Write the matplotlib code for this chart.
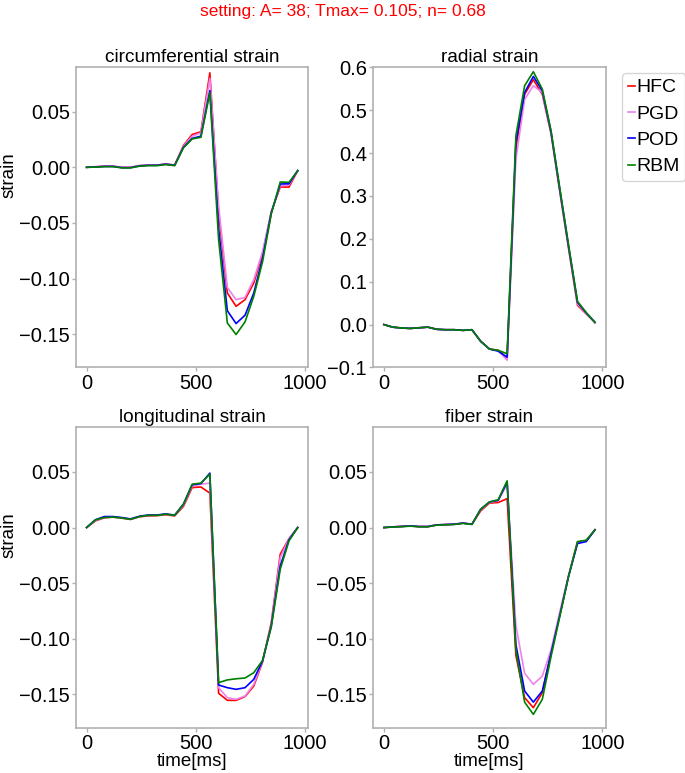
import matplotlib
matplotlib.use('Agg')
import matplotlib.pyplot as plt

plt.rcParams['font.family'] = ['Liberation Sans', 'DejaVu Sans']

# time points of the cycle [ms]
times_ms = [0, 40, 81, 121, 161, 201, 242, 282, 322, 362, 403, 443, 483,
            523, 564, 604, 644, 684, 725, 765, 805, 845, 886, 926, 966]

methods = ['HFC', 'PGD', 'POD', 'RBM']
colors = ['red', 'violet', 'blue', 'green']

# circumferential strain
circ_hfc = [0, 0.0005, 0.001, 0.001, 0.0, 0.0, 0.0015, 0.002, 0.002, 0.003, 0.002, 0.0196, 0.0295,
            0.032, 0.085, -0.040, -0.113, -0.125, -0.119, -0.104, -0.078, -0.040, -0.0177, -0.0178, -0.003]
circ_pgd = [0, 0.0005, 0.001, 0.001, 0.0, 0.0, 0.0015, 0.002, 0.002, 0.003, 0.002, 0.019, 0.028,
            0.031, 0.080, -0.035, -0.108, -0.119, -0.117, -0.101, -0.076, -0.040, -0.0165, -0.016, -0.003]
circ_pod = [0, 0.0003, 0.0008, 0.0008, -0.0003, -0.0003, 0.0013, 0.0018, 0.0018, 0.0028, 0.0018, 0.018, 0.026,
            0.028, 0.069, -0.055, -0.129, -0.1405, -0.133, -0.113, -0.082, -0.041, -0.015, -0.0148, -0.003]
circ_rbm = [0, 0.0002, 0.0006, 0.0006, -0.0005, -0.0005, 0.001, 0.0015, 0.0015, 0.0025, 0.0015, 0.0175, 0.0255,
            0.027, 0.067, -0.065, -0.140, -0.1504, -0.139, -0.116, -0.085, -0.042, -0.0132, -0.0135, -0.003]

# radial strain
rad_hfc = [0.0, -0.006, -0.008, -0.009, -0.0075, -0.006, -0.011, -0.012, -0.012, -0.0135, -0.012, -0.039, -0.057,
           -0.060, -0.078, 0.410, 0.537, 0.571, 0.537, 0.445, 0.310, 0.178, 0.045, 0.025, 0.005]
rad_pgd = [0.0, -0.006, -0.008, -0.009, -0.0075, -0.006, -0.011, -0.012, -0.012, -0.0135, -0.012, -0.039, -0.057,
           -0.061, -0.083, 0.385, 0.525, 0.557, 0.541, 0.447, 0.312, 0.180, 0.048, 0.026, 0.005]
rad_pod = [0.0, -0.006, -0.008, -0.009, -0.0075, -0.006, -0.011, -0.012, -0.012, -0.0135, -0.012, -0.039, -0.057,
           -0.062, -0.076, 0.424, 0.541, 0.5786, 0.545, 0.449, 0.315, 0.183, 0.052, 0.027, 0.005]
rad_rbm = [0.0, -0.006, -0.008, -0.009, -0.0075, -0.006, -0.011, -0.012, -0.012, -0.0135, -0.012, -0.039, -0.057,
           -0.060, -0.068, 0.440, 0.557, 0.5896, 0.549, 0.452, 0.318, 0.186, 0.054, 0.028, 0.005]

# longitudinal strain
long_hfc = [0, 0.006, 0.0088, 0.0094, 0.0085, 0.0073, 0.0097, 0.0105, 0.0107, 0.0115, 0.0105, 0.019, 0.036,
            0.0365, 0.031, -0.149, -0.1554, -0.1554, -0.152, -0.1425, -0.121, -0.0855, -0.024, -0.010, 0.0]
long_pgd = [0, 0.0065, 0.009, 0.0096, 0.0087, 0.0075, 0.0099, 0.011, 0.011, 0.012, 0.011, 0.020, 0.0374,
            0.039, 0.040, -0.144, -0.153, -0.1545, -0.1515, -0.141, -0.120, -0.087, -0.027, -0.010, 0.0]
long_pod = [0, 0.007, 0.0099, 0.0099, 0.009, 0.0078, 0.0102, 0.0113, 0.0113, 0.0123, 0.0112, 0.021, 0.0385,
            0.0395, 0.049, -0.1416, -0.144, -0.1455, -0.144, -0.1365, -0.120, -0.0885, -0.0345, -0.011, 0.0]
long_rbm = [0, 0.0069, 0.009, 0.0094, 0.0086, 0.0074, 0.0099, 0.011, 0.011, 0.012, 0.011, 0.021, 0.039,
            0.040, 0.048, -0.1395, -0.137, -0.136, -0.1353, -0.1305, -0.1195, -0.0895, -0.0375, -0.012, 0.0]

# fiber strain
fib_hfc = [0, 0.0006, 0.001, 0.0015, 0.0009, 0.0009, 0.0024, 0.0027, 0.003, 0.004, 0.003, 0.015, 0.022,
           0.0225, 0.026, -0.115, -0.153, -0.162, -0.1485, -0.113, -0.078, -0.0435, -0.013, -0.0117, -0.002]
fib_pgd = [0, 0.0006, 0.001, 0.0015, 0.0009, 0.0009, 0.0024, 0.0027, 0.003, 0.004, 0.003, 0.016, 0.0225,
           0.024, 0.039, -0.088, -0.131, -0.141, -0.1335, -0.110, -0.076, -0.043, -0.013, -0.012, -0.002]
fib_pod = [0, 0.0006, 0.001, 0.0015, 0.0009, 0.0009, 0.0024, 0.0027, 0.003, 0.004, 0.003, 0.0165, 0.023,
           0.0245, 0.041, -0.105, -0.147, -0.157, -0.147, -0.113, -0.079, -0.044, -0.0144, -0.0126, -0.002]
fib_rbm = [0, 0.0005, 0.0008, 0.0013, 0.0007, 0.0007, 0.0022, 0.0025, 0.0028, 0.0038, 0.0028, 0.0165, 0.023,
           0.025, 0.042, -0.110, -0.157, -0.168, -0.1545, -0.116, -0.080, -0.044, -0.0126, -0.0114, -0.002]

panels = [
    ('circumferential strain', [circ_hfc, circ_pgd, circ_pod, circ_rbm], (-0.18, 0.09)),
    ('radial strain', [rad_hfc, rad_pgd, rad_pod, rad_rbm], (-0.1, 0.6)),
    ('longitudinal strain', [long_hfc, long_pgd, long_pod, long_rbm], (-0.18, 0.09)),
    ('fiber strain', [fib_hfc, fib_pgd, fib_pod, fib_rbm], (-0.18, 0.09)),
]

tick_fs = 14.5
label_fs = 13.5
title_fs = 13.7
spine_col = '#b0b0b0'

fig, axes = plt.subplots(2, 2, figsize=(6.85, 7.73), dpi=100)
plt.subplots_adjust(left=0.111, right=0.884, bottom=0.0586, top=0.913,
                    wspace=0.28, hspace=0.20)

for i, (title, series, ylim) in enumerate(panels):
    ax = axes.flat[i]
    for name, col, vals in zip(methods, colors, series):
        ax.plot(times_ms, vals, color=col, lw=1.2, label=name)
    ax.set_title(title, fontsize=title_fs, pad=4)
    ax.set_ylim(*ylim)
    ax.set_xticks([0, 500, 1000])
    for sp in ax.spines.values():
        sp.set_color(spine_col)
        sp.set_linewidth(1.2)
    ax.tick_params(labelsize=tick_fs, color=spine_col, length=3, width=1, pad=1.5)
    if i % 2 == 0:
        ax.set_ylabel('strain', fontsize=label_fs)
        ax.yaxis.set_label_coords(-0.25, 0.64)
    if i >= 2:
        ax.set_xlabel('time[ms]', fontsize=label_fs, labelpad=0)

# legend to the right of the radial panel
axes[0, 1].legend(loc='upper left', bbox_to_anchor=(0.9076, 0.9056),
                  bbox_transform=fig.transFigure, fontsize=14,
                  handlelength=0.4, handletextpad=0.05, borderpad=0.3,
                  labelspacing=0.45, borderaxespad=0, edgecolor='#cccccc')

fig.suptitle('setting: A= 38; Tmax= 0.105; n= 0.68', color='red', fontsize=12.5, y=0.995)

fig.savefig('out.png', dpi=100)
